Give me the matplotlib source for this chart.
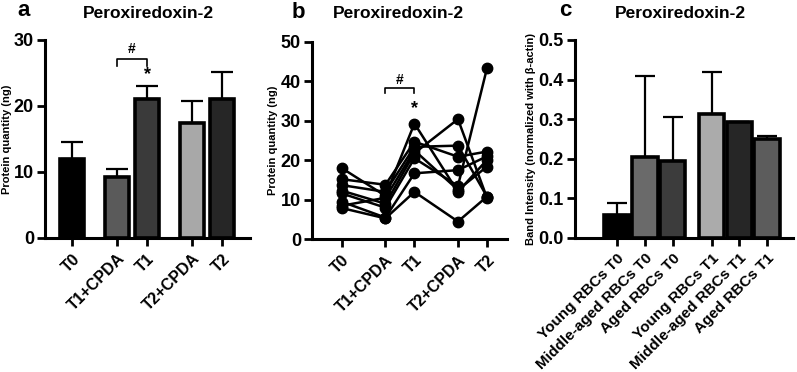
import numpy as np
import matplotlib.pyplot as plt

plt.rcParams['font.family'] = ['Liberation Sans', 'DejaVu Sans']
plt.rcParams['font.weight'] = 'bold'

# panel a: mean protein quantity with upper SD
groups = ['T0', 'T1+CPDA', 'T1', 'T2+CPDA', 'T2']
pos_a = [0, 1.5, 2.5, 4, 5]
means_a = [11.9, 9.3, 21.0, 17.4, 21.0]
upper_a = [14.6, 10.4, 23.0, 20.7, 25.2]
colors_a = ['#000000', '#5a5a5a', '#3a3a3a', '#a8a8a8', '#262626']

# panel b: individual subjects
subj_T0 = [18.0, 15.2, 13.7, 12.3, 11.6, 9.5, 8.5, 7.9]
subj_T1CPDA = [11.0, 13.8, 12.0, 9.0, 8.0, 5.5, 10.5, 5.3]
subj_T1 = [29.3, 24.7, 23.4, 21.8, 20.5, 16.7, 22.5, 12.0]
subj_T2CPDA = [12.0, 20.9, 23.7, 30.4, 13.5, 17.5, 12.5, 4.5]
subj_T2 = [20.1, 22.2, 10.8, 10.5, 43.3, 21.0, 18.4, 10.8]

# panel c: band intensity
groups_c = ['Young RBCs T0', 'Middle-aged RBCs T0', 'Aged RBCs T0',
            'Young RBCs T1', 'Middle-aged RBCs T1', 'Aged RBCs T1']
pos_c = [0, 1, 2, 3.4, 4.4, 5.4]
means_c = [0.059, 0.205, 0.195, 0.313, 0.293, 0.251]
upper_c = [0.088, 0.409, 0.305, 0.419, 0.293, 0.258]
colors_c = ['#000000', '#6a6a6a', '#3c3c3c', '#ababab', '#262626', '#5c5c5c']

fig = plt.figure(figsize=(7.97, 3.72), dpi=100)
W, H = 797, 372


def make_ax(x0, x1, y0, y1):
    return fig.add_axes([x0 / W, 1 - y0 / H, (x1 - x0) / W, (y0 - y1) / H])


def style(ax):
    for s in ['top', 'right']:
        ax.spines[s].set_visible(False)
    for s in ['left', 'bottom']:
        ax.spines[s].set_linewidth(2.2)
    ax.tick_params(width=2, length=6)
    ax.tick_params(axis='y', labelsize=13, pad=2)
    for lab in ax.get_yticklabels():
        lab.set_fontweight('bold')


def bars(ax, pos, means, upper, colors, width, cap):
    err = np.array(upper) - np.array(means)
    ax.errorbar(pos, means, yerr=[np.zeros(len(err)), err], fmt='none',
                ecolor='black', elinewidth=1.6, capsize=cap, capthick=1.6, zorder=1)
    ax.bar(pos, means, width=width, color=colors, edgecolor='black',
           linewidth=2.6, zorder=2)


# ---- a ----
ax = make_ax(45, 250, 238, 40)
bars(ax, pos_a, means_a, upper_a, colors_a, 0.8, 8)
ax.set_xlim(-0.9, 5.93)
ax.set_ylim(0, 30)
ax.set_yticks([0, 10, 20, 30])
ax.set_xticks(pos_a)
ax.set_xticklabels(groups, rotation=45, ha='right', rotation_mode='anchor',
                   fontsize=11.5, fontweight='bold')
ax.set_ylabel('Protein quantity (ng)', fontsize=8, fontweight='bold', labelpad=1)
style(ax)
ax.plot([1.5, 1.5, 2.5, 2.5], [26.1, 27.1, 27.1, 26.1], color='black', lw=1.2)
ax.text(2.0, 27.6, '#', ha='center', va='bottom', fontsize=10)
ax.text(2.5, 23.4, '*', ha='center', va='bottom', fontsize=13)
fig.text(148 / W, 1 - 14 / H, 'Peroxiredoxin-2', ha='center', va='center', fontsize=12.5)
fig.text(24 / W, 1 - 10 / H, 'a', ha='center', va='center', fontsize=16)

# ---- b ----
ax = make_ax(312, 507, 239.3, 41.7)
subjects = np.array([subj_T0, subj_T1CPDA, subj_T1, subj_T2CPDA, subj_T2])
for i in range(subjects.shape[1]):
    ax.plot(pos_a, subjects[:, i], color='black', lw=1.8, marker='o', markersize=7.5)
ax.set_xlim(-1.03, 5.69)
ax.set_ylim(0, 50)
ax.set_yticks([0, 10, 20, 30, 40, 50])
ax.set_xticks(pos_a)
ax.set_xticklabels(groups, rotation=45, ha='right', rotation_mode='anchor',
                   fontsize=11.5, fontweight='bold')
ax.set_ylabel('Protein quantity (ng)', fontsize=8, fontweight='bold', labelpad=2)
style(ax)
for ln in ax.lines:
    ln.set_clip_on(False)
ax.plot([1.5, 1.5, 2.5, 2.5], [37.0, 38.2, 38.2, 37.0], color='black', lw=1.2)
ax.text(2.0, 38.6, '#', ha='center', va='bottom', fontsize=10)
ax.text(2.5, 31.0, '*', ha='center', va='bottom', fontsize=13)
fig.text(398 / W, 1 - 14 / H, 'Peroxiredoxin-2', ha='center', va='center', fontsize=12.5)
fig.text(298 / W, 1 - 12 / H, 'b', ha='center', va='center', fontsize=16)

# ---- c ----
ax = make_ax(575, 793, 238, 40)
bars(ax, pos_c, means_c, upper_c, colors_c, 0.92, 7)
ax.set_xlim(-1.51, 6.33)
ax.set_ylim(0, 0.5)
ax.set_yticks([0.0, 0.1, 0.2, 0.3, 0.4, 0.5])
ax.set_yticklabels(['0.0', '0.1', '0.2', '0.3', '0.4', '0.5'])
ax.set_xticks(pos_c)
ax.set_xticklabels(groups_c, rotation=45, ha='right', rotation_mode='anchor',
                   fontsize=11, fontweight='bold')
ax.set_ylabel('Band Intensity (normalized with β-actin)', fontsize=8,
              fontweight='bold', labelpad=2)
style(ax)
fig.text(680 / W, 1 - 14 / H, 'Peroxiredoxin-2', ha='center', va='center', fontsize=12.5)
fig.text(565 / W, 1 - 11 / H, 'c', ha='center', va='center', fontsize=16)

fig.savefig('out.png', dpi=100)
